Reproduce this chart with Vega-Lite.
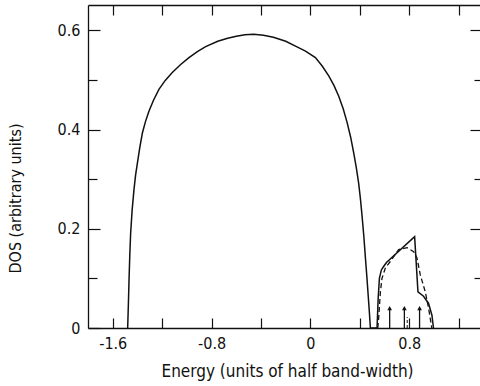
{
  "$schema": "https://vega.github.io/schema/vega-lite/v6.json",
  "width": 392,
  "height": 323,
  "autosize": {"type": "none"},
  "padding": {"left": 88, "top": 5, "right": 0, "bottom": 58},
  "background": "white",
  "config": {
    "view": {"stroke": null},
    "font": "DejaVu Sans Condensed",
    "axis": {
      "domainColor": "#111",
      "domainWidth": 1.3,
      "tickColor": "#111",
      "tickWidth": 1.2,
      "grid": false,
      "labelFont": "DejaVu Sans Condensed",
      "labelFontSize": 16,
      "labelColor": "#111",
      "titleFont": "DejaVu Sans Condensed",
      "titleFontWeight": "normal",
      "titleColor": "#111"
    }
  },
  "datasets": {
    "solid": [
      {"e": -1.479, "dos": 0},
      {"e": -1.473, "dos": 0.05},
      {"e": -1.468, "dos": 0.097},
      {"e": -1.462, "dos": 0.145},
      {"e": -1.455, "dos": 0.191},
      {"e": -1.443, "dos": 0.237},
      {"e": -1.428, "dos": 0.279},
      {"e": -1.415, "dos": 0.308},
      {"e": -1.4, "dos": 0.333},
      {"e": -1.38, "dos": 0.365},
      {"e": -1.36, "dos": 0.393},
      {"e": -1.335, "dos": 0.416},
      {"e": -1.307, "dos": 0.437},
      {"e": -1.27, "dos": 0.459},
      {"e": -1.226, "dos": 0.481},
      {"e": -1.175, "dos": 0.499},
      {"e": -1.118, "dos": 0.515},
      {"e": -1.05, "dos": 0.531},
      {"e": -0.983, "dos": 0.545},
      {"e": -0.915, "dos": 0.557},
      {"e": -0.848, "dos": 0.567},
      {"e": -0.75, "dos": 0.578},
      {"e": -0.67, "dos": 0.584},
      {"e": -0.6, "dos": 0.588},
      {"e": -0.53, "dos": 0.591},
      {"e": -0.46, "dos": 0.592},
      {"e": -0.38, "dos": 0.59},
      {"e": -0.3, "dos": 0.586},
      {"e": -0.2, "dos": 0.578},
      {"e": -0.121, "dos": 0.568},
      {"e": -0.04, "dos": 0.558},
      {"e": 0.04, "dos": 0.545},
      {"e": 0.095, "dos": 0.528},
      {"e": 0.148, "dos": 0.508},
      {"e": 0.19, "dos": 0.489},
      {"e": 0.229, "dos": 0.467},
      {"e": 0.265, "dos": 0.442},
      {"e": 0.297, "dos": 0.414},
      {"e": 0.325, "dos": 0.385},
      {"e": 0.35, "dos": 0.353},
      {"e": 0.371, "dos": 0.323},
      {"e": 0.39, "dos": 0.292},
      {"e": 0.405, "dos": 0.259},
      {"e": 0.418, "dos": 0.225},
      {"e": 0.432, "dos": 0.185},
      {"e": 0.444, "dos": 0.144},
      {"e": 0.456, "dos": 0.105},
      {"e": 0.466, "dos": 0.07},
      {"e": 0.476, "dos": 0.035},
      {"e": 0.485, "dos": 0},
      {"e": 0.539, "dos": 0},
      {"e": 0.548, "dos": 0.06},
      {"e": 0.558, "dos": 0.1},
      {"e": 0.574, "dos": 0.117},
      {"e": 0.592, "dos": 0.124},
      {"e": 0.615, "dos": 0.132},
      {"e": 0.843, "dos": 0.184},
      {"e": 0.87, "dos": 0.073},
      {"e": 0.915, "dos": 0.064},
      {"e": 0.955, "dos": 0.05},
      {"e": 0.983, "dos": 0.026},
      {"e": 0.994, "dos": 0.003},
      {"e": 0.996, "dos": 0}
    ],
    "dashed": [
      {"e": 0.545, "dos": 0},
      {"e": 0.552, "dos": 0.02},
      {"e": 0.566, "dos": 0.073},
      {"e": 0.579, "dos": 0.1},
      {"e": 0.606, "dos": 0.121},
      {"e": 0.646, "dos": 0.134},
      {"e": 0.714, "dos": 0.158},
      {"e": 0.781, "dos": 0.162},
      {"e": 0.835, "dos": 0.154},
      {"e": 0.862, "dos": 0.141},
      {"e": 0.889, "dos": 0.107},
      {"e": 0.929, "dos": 0.073},
      {"e": 0.956, "dos": 0.04},
      {"e": 0.978, "dos": 0.006},
      {"e": 0.982, "dos": 0}
    ],
    "arrows": [
      {"e": 0.641, "base": 0, "tip": 0.04},
      {"e": 0.76, "base": 0, "tip": 0.04},
      {"e": 0.883, "base": 0, "tip": 0.04}
    ],
    "dashmark": [
      {"e": 0.783, "base": 0, "tip": 0.022}
    ]
  },
  "resolve": {"axis": {"x": "independent", "y": "independent"}},
  "layer": [
    {
      "data": {"name": "solid"},
      "mark": {"type": "line", "color": "#111", "strokeWidth": 1.5, "interpolate": "linear"},
      "encoding": {
        "x": {
          "field": "e", "type": "quantitative",
          "scale": {"domain": [-1.8, 1.372], "nice": false, "zero": false},
          "axis": {
            "orient": "bottom",
            "values": [-1.6, -1.2, -0.8, -0.4, 0, 0.4, 0.8, 1.2],
            "labelExpr": "abs(round(datum.value*10)) % 8 == 0 ? (datum.value == 0 ? '0' : (datum.value < 0 ? '-' : '') + format(abs(datum.value), '.1f')) : ''",
            "tickSize": -10,
            "labelPadding": 17,
            "labelFlush": false,
            "title": "Energy  (units of half band-width)",
            "titleFontSize": 17,
            "titleY": 35,
            "titleX": 199,
            "titleBaseline": "top"
          }
        },
        "y": {
          "field": "dos", "type": "quantitative",
          "scale": {"domain": [0, 0.651], "nice": false},
          "axis": {
            "orient": "left",
            "values": [0, 0.1, 0.2, 0.3, 0.4, 0.5, 0.6],
            "labelExpr": "round(datum.value*10) % 2 == 0 ? (datum.value == 0 ? '0' : format(datum.value, '.1f')) : ''",
            "tickSize": {"condition": {"test": "round(datum.value*10) % 2 == 0", "value": -12}, "value": -9},
            "labelPadding": 20,
            "labelFlush": false,
            "title": "DOS  (arbitrary units)",
            "titleFontSize": 16,
            "titleX": -73,
            "titleY": 193,
            "titleAlign": "center",
            "titleBaseline": "middle",
            "titleAngle": -90
          }
        }
      }
    },
    {
      "data": {"name": "dashed"},
      "mark": {"type": "line", "color": "#111", "strokeWidth": 1.3, "strokeDash": [5, 3]},
      "encoding": {
        "x": {
          "field": "e", "type": "quantitative",
          "axis": {
            "orient": "top",
            "values": [-1.6, -1.2, -0.8, -0.4, 0, 0.4, 0.8, 1.2],
            "labels": false,
            "tickSize": -10,
            "title": null
          }
        },
        "y": {
          "field": "dos", "type": "quantitative",
          "axis": {
            "orient": "right",
            "values": [0.1, 0.2, 0.3, 0.4, 0.5, 0.6],
            "labels": false,
            "domain": false,
            "tickSize": {"condition": {"test": "round(datum.value*10) % 2 == 0", "value": -10}, "value": -6},
            "title": null
          }
        }
      }
    },
    {
      "data": {"name": "arrows"},
      "mark": {"type": "rule", "color": "#111", "strokeWidth": 1.3},
      "encoding": {
        "x": {"field": "e", "type": "quantitative", "axis": null},
        "y": {"field": "base", "type": "quantitative", "axis": null},
        "y2": {"field": "tip"}
      }
    },
    {
      "data": {"name": "arrows"},
      "mark": {"type": "point", "shape": "triangle-up", "filled": true, "color": "#111", "size": 22, "opacity": 1},
      "encoding": {
        "x": {"field": "e", "type": "quantitative", "axis": null},
        "y": {"field": "tip", "type": "quantitative", "axis": null}
      }
    },
    {
      "data": {"name": "dashmark"},
      "mark": {"type": "rule", "color": "#111", "strokeWidth": 1, "strokeDash": [3, 2]},
      "encoding": {
        "x": {"field": "e", "type": "quantitative", "axis": null},
        "y": {"field": "base", "type": "quantitative", "axis": null},
        "y2": {"field": "tip"}
      }
    }
  ]
}
